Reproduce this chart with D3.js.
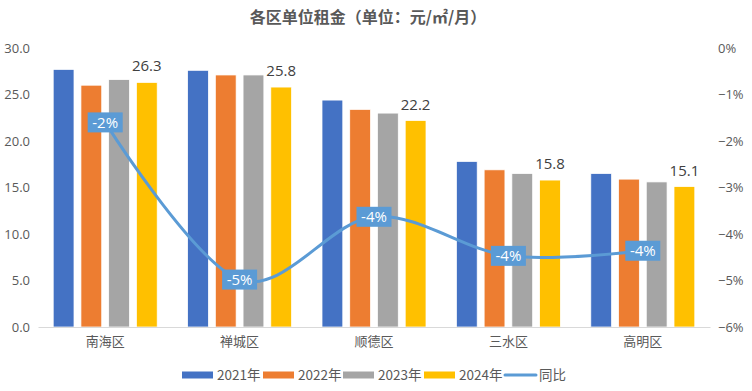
<!DOCTYPE html>
<html>
<head>
<meta charset="utf-8">
<script src="https://cdn.jsdelivr.net/npm/d3@7/dist/d3.min.js"></script>
<style>
  html, body { margin: 0; padding: 0; background: #fff; }
  svg { display: block; font-family: "Microsoft YaHei", "Noto Sans CJK SC", "Open Sans", sans-serif; }
</style>
</head>
<body>
<svg id="chart" width="752" height="391"></svg>
<script>
const categories = ["南海区", "禅城区", "顺德区", "三水区", "高明区"];
const seriesNames = ["2021年", "2022年", "2023年", "2024年"];
const v2021 = [27.7, 27.6, 24.4, 17.8, 16.5];
const v2022 = [26.0, 27.1, 23.4, 16.9, 15.9];
const v2023 = [26.6, 27.1, 23.0, 16.5, 15.6];
const v2024 = [26.3, 25.8, 22.2, 15.8, 15.1];
const yoy = [-0.016, -0.0498, -0.0363, -0.0447, -0.0436];
const leftTicks = [0, 5, 10, 15, 20, 25, 30];
const rightTicks = [0, -0.01, -0.02, -0.03, -0.04, -0.05, -0.06];
const colors = ["#4472c4", "#ed7d31", "#a5a5a5", "#ffc000"];
const lineColor = "#5b9bd5";
const series = [v2021, v2022, v2023, v2024];

const svg = d3.select("#chart");
const L = 38, R = 710, T = 48, B = 327;

const x = d3.scaleBand().domain(categories).range([L, R]).paddingInner(0).paddingOuter(0);
const x1 = d3.scaleBand().domain(seriesNames).range([0, 104]).paddingInner(0.25).paddingOuter(0);
const yL = d3.scaleLinear().domain([0, 30]).range([B, T]);
const yR = d3.scaleLinear().domain([-0.06, 0]).range([B, T]);

// title
svg.append("text").attr("x", 368).attr("y", 23).attr("text-anchor", "middle")
  .attr("font-size", 16).attr("font-weight", "bold").attr("fill", "#595959")
  .text("各区单位租金（单位：元/㎡/月）");

// bars
const groupOffset = (x.bandwidth() - 104) / 2;
series.forEach((vals, si) => {
  svg.append("g").selectAll("rect").data(vals).join("rect")
    .attr("x", (d, i) => x(categories[i]) + groupOffset + x1(seriesNames[si]))
    .attr("y", d => yL(d))
    .attr("width", x1.bandwidth())
    .attr("height", d => B - yL(d))
    .attr("fill", colors[si])
    .attr("stroke", "#fff").attr("stroke-width", 0.75);
});

// 2024 data labels
svg.append("g").selectAll("text").data(v2024).join("text")
  .attr("x", (d, i) => x(categories[i]) + groupOffset + x1("2024年") + x1.bandwidth() / 2)
  .attr("y", d => yL(d) - 11)
  .attr("text-anchor", "middle").attr("font-size", 15).attr("fill", "#404040")
  .attr("font-family", "\"Open Sans\", sans-serif")
  .text(d => d.toFixed(1));

// bottom axis
const xAxis = svg.append("g").attr("transform", `translate(0,${B})`)
  .call(d3.axisBottom(x).tickSize(0).tickPadding(10));
xAxis.select(".domain").attr("stroke", "#d9d9d9");
xAxis.selectAll("text").attr("font-size", 13).attr("fill", "#595959")
  .attr("font-family", "\"Noto Sans CJK SC\", sans-serif");

// left axis
const yAxisL = svg.append("g").attr("transform", `translate(${L - 8},0)`)
  .call(d3.axisLeft(yL).tickValues(leftTicks).tickFormat(d3.format(".1f")).tickSize(0).tickPadding(0));
yAxisL.select(".domain").remove();
yAxisL.selectAll("text").attr("font-size", 13).attr("fill", "#595959")
  .attr("font-family", "\"Open Sans\", sans-serif");

// right axis
const yAxisR = svg.append("g").attr("transform", `translate(${R + 8},0)`)
  .call(d3.axisRight(yR).tickValues(rightTicks).tickFormat(d => d === 0 ? "0%" : d3.format(".0%")(d)).tickSize(0).tickPadding(0));
yAxisR.select(".domain").remove();
yAxisR.selectAll("text").attr("font-size", 13).attr("fill", "#595959")
  .attr("font-family", "\"Open Sans\", sans-serif");

// line
const pts = yoy.map((d, i) => [x(categories[i]) + x.bandwidth() / 2, yR(d)]);
svg.append("path").attr("d", d3.line().curve(d3.curveCatmullRom.alpha(0))(pts))
  .attr("fill", "none").attr("stroke", lineColor).attr("stroke-width", 3).attr("stroke-linecap", "round");

// line labels
const lbl = svg.append("g").selectAll("g").data(yoy).join("g")
  .attr("transform", (d, i) => `translate(${pts[i][0]},${pts[i][1]})`);
lbl.append("rect").attr("x", -17.5).attr("y", -10).attr("width", 35).attr("height", 20).attr("fill", lineColor);
lbl.append("text").attr("text-anchor", "middle").attr("dy", "0.36em")
  .attr("font-size", 15).attr("fill", "#fff").attr("font-family", "\"Open Sans\", sans-serif")
  .text(d => d3.format(".0%")(d).replace("−", "-"));

// legend
const legendItems = [
  { name: "2021年", x: 182, type: "rect", color: colors[0] },
  { name: "2022年", x: 263, type: "rect", color: colors[1] },
  { name: "2023年", x: 343, type: "rect", color: colors[2] },
  { name: "2024年", x: 424, type: "rect", color: colors[3] },
  { name: "同比", x: 504, type: "line", color: lineColor }
];
const lg = svg.append("g").selectAll("g").data(legendItems).join("g")
  .attr("transform", d => `translate(${d.x},375)`);
lg.filter(d => d.type === "rect").append("rect")
  .attr("x", 0).attr("y", -3.5).attr("width", 31).attr("height", 7).attr("fill", d => d.color);
lg.filter(d => d.type === "line").append("line")
  .attr("x1", 1).attr("x2", 32).attr("y1", 0).attr("y2", 0)
  .attr("stroke", d => d.color).attr("stroke-width", 3).attr("stroke-linecap", "round");
lg.append("text").attr("x", 35).attr("dy", "0.36em")
  .attr("font-size", 13.5).attr("fill", "#595959")
  .attr("font-family", "\"Noto Sans CJK SC\", sans-serif")
  .text(d => d.name);
</script>
</body>
</html>
